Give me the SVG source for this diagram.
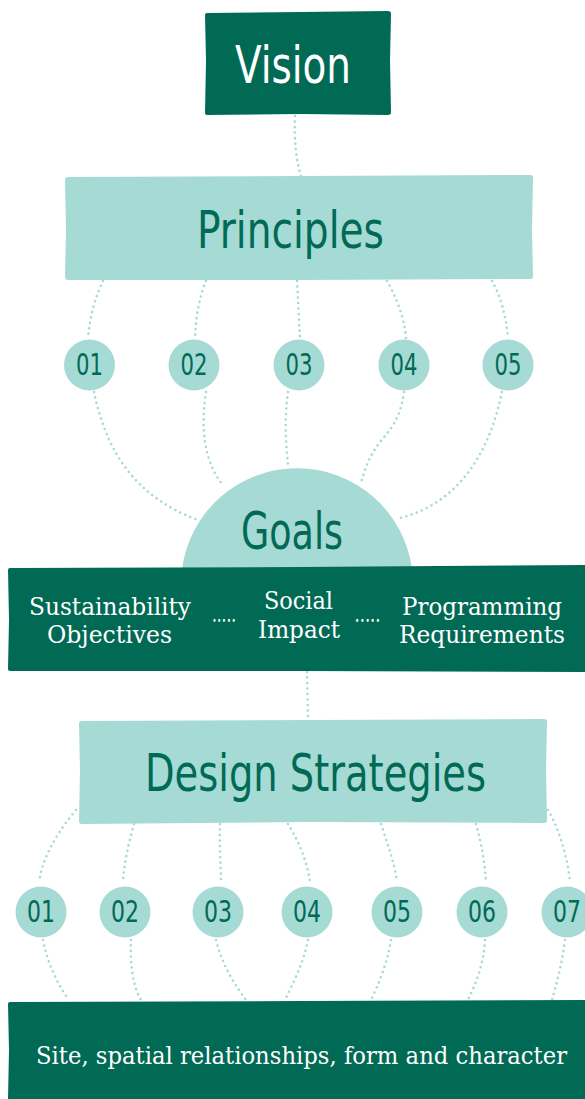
<svg xmlns="http://www.w3.org/2000/svg" width="585" height="1099" viewBox="0 0 585 1099">
<style>
.dark{fill:#016a55}
.light{fill:#a6dad5}
.dot{fill:none;stroke:#a6dad5;stroke-width:2.6;stroke-linecap:round;stroke-dasharray:0 5.5}
.head{font-family:"DejaVu Sans Condensed","DejaVu Sans",sans-serif;font-size:52px;text-anchor:middle}
.num{font-family:"DejaVu Sans Condensed","DejaVu Sans",sans-serif;font-size:31px;fill:#016a55;text-anchor:middle}
.ser{font-family:"DejaVu Serif Condensed","DejaVu Serif","Liberation Serif",serif;font-size:25px;fill:#ffffff;text-anchor:middle}
</style>
<rect width="585" height="1099" fill="#ffffff"/>
<g id="connectors">
<path class="dot" d="M295,116 C294,140 296,160 301,176"/>
<path class="dot" d="M103,281 C96,295 90,315 88,338"/>
<path class="dot" d="M206,281 C200,295 196,315 195,338"/>
<path class="dot" d="M297,281 C298,300 299,320 300,338"/>
<path class="dot" d="M387,281 C395,295 404,315 406,338"/>
<path class="dot" d="M492,281 C500,295 506,315 508,338"/>
<path class="dot" d="M94,392 C105,445 130,495 198,520"/>
<path class="dot" d="M206,392 C200,430 205,465 224,486"/>
<path class="dot" d="M288,392 C284,420 286,445 288,465"/>
<path class="dot" d="M404,392 C400,420 390,430 380,442 C370,455 365,468 361,483"/>
<path class="dot" d="M502,392 C490,450 460,505 396,519"/>
<path class="dot" d="M307,672 L308,718"/>
<path class="dot" d="M76,810 C55,835 42,860 39,882"/>
<path class="dot" d="M134,824 C128,845 124,865 123,882"/>
<path class="dot" d="M220,824 C219,845 221,865 221,882"/>
<path class="dot" d="M288,824 C298,840 307,860 310,882"/>
<path class="dot" d="M381,824 C388,845 395,865 397,882"/>
<path class="dot" d="M476,824 C482,845 485,865 486,882"/>
<path class="dot" d="M548,810 C560,830 568,860 570,882"/>
<path class="dot" d="M43,940 C48,965 58,985 69,1000"/>
<path class="dot" d="M131,940 C130,960 132,985 141,1000"/>
<path class="dot" d="M216,940 C222,965 235,985 246,1000"/>
<path class="dot" d="M308,940 C303,965 292,985 285,1000"/>
<path class="dot" d="M391,940 C387,965 378,985 371,1000"/>
<path class="dot" d="M485,940 C484,965 475,985 468,1000"/>
<path class="dot" d="M565,940 C562,965 556,985 552,1000"/>
</g>
<g id="vision">
<path class="dark" d="M207,13 L300,12 L388,11 Q391,11 391,14 L390,60 L391,112 Q391,115 388,115 L300,114 L207,115 Q205,115 205,113 L206,60 L205,15 Q205,13 207,13 Z"/>
<text class="head" x="293" y="83" fill="#ffffff" textLength="116" lengthAdjust="spacingAndGlyphs">Vision</text>
</g>
<g id="principles">
<path class="light" d="M68,177 L300,176 L530,175 Q533,175 533,178 L532,230 L533,276 Q533,279 530,279 L300,280 L68,280 Q65,280 65,277 L66,230 L65,180 Q65,177 68,177 Z"/>
<text class="head" x="290.5" y="248" fill="#016a55" textLength="187" lengthAdjust="spacingAndGlyphs">Principles</text>
</g>
<g id="p01"><circle class="light" cx="89.5" cy="365" r="25.5"/><text class="num" x="89.5" y="375" textLength="27" lengthAdjust="spacingAndGlyphs">01</text></g>
<g id="p02"><circle class="light" cx="194" cy="365" r="25.5"/><text class="num" x="194" y="375" textLength="27" lengthAdjust="spacingAndGlyphs">02</text></g>
<g id="p03"><circle class="light" cx="299" cy="365" r="25.5"/><text class="num" x="299" y="375" textLength="27" lengthAdjust="spacingAndGlyphs">03</text></g>
<g id="p04"><circle class="light" cx="404" cy="365" r="25.5"/><text class="num" x="404" y="375" textLength="27" lengthAdjust="spacingAndGlyphs">04</text></g>
<g id="p05"><circle class="light" cx="508" cy="365" r="25.5"/><text class="num" x="508" y="375" textLength="27" lengthAdjust="spacingAndGlyphs">05</text></g>
<g id="goals">
<path class="light" d="M182,569 A116,116 0 0 1 412,569 Z"/>
<text class="head" x="292" y="549" fill="#016a55" textLength="102" lengthAdjust="spacingAndGlyphs">Goals</text>
</g>
<g id="goals-band">
<path class="dark" d="M10,568 L300,567 L585,565 L585,672 L300,671 L10,671 Q8,671 8,669 L9,620 L8,570 Q8,568 10,568 Z"/>
<text class="ser" x="110" y="615" textLength="162" lengthAdjust="spacingAndGlyphs">Sustainability</text>
<text class="ser" x="109.5" y="643" textLength="125" lengthAdjust="spacingAndGlyphs">Objectives</text>
<text class="ser" x="224" y="622" textLength="24" lengthAdjust="spacingAndGlyphs">.....</text>
<text class="ser" x="298.5" y="609" textLength="69" lengthAdjust="spacingAndGlyphs">Social</text>
<text class="ser" x="299" y="638" textLength="82" lengthAdjust="spacingAndGlyphs">Impact</text>
<text class="ser" x="367.5" y="622" textLength="26" lengthAdjust="spacingAndGlyphs">.....</text>
<text class="ser" x="482" y="615" textLength="160" lengthAdjust="spacingAndGlyphs">Programming</text>
<text class="ser" x="482" y="643" textLength="166" lengthAdjust="spacingAndGlyphs">Requirements</text>
</g>
<g id="design-strategies">
<path class="light" d="M82,721 L310,720 L544,719 Q547,719 547,722 L546,770 L547,820 Q547,823 544,823 L310,822 L82,824 Q79,824 79,821 L80,770 L79,724 Q79,721 82,721 Z"/>
<text class="head" x="315.5" y="791" fill="#016a55" textLength="341" lengthAdjust="spacingAndGlyphs">Design Strategies</text>
</g>
<g id="s01"><circle class="light" cx="41" cy="912" r="25.5"/><text class="num" x="41" y="922" textLength="28" lengthAdjust="spacingAndGlyphs">01</text></g>
<g id="s02"><circle class="light" cx="125" cy="912" r="25.5"/><text class="num" x="125" y="922" textLength="28" lengthAdjust="spacingAndGlyphs">02</text></g>
<g id="s03"><circle class="light" cx="218" cy="912" r="25.5"/><text class="num" x="218" y="922" textLength="28" lengthAdjust="spacingAndGlyphs">03</text></g>
<g id="s04"><circle class="light" cx="307" cy="912" r="25.5"/><text class="num" x="307" y="922" textLength="28" lengthAdjust="spacingAndGlyphs">04</text></g>
<g id="s05"><circle class="light" cx="397" cy="912" r="25.5"/><text class="num" x="397" y="922" textLength="28" lengthAdjust="spacingAndGlyphs">05</text></g>
<g id="s06"><circle class="light" cx="482" cy="912" r="25.5"/><text class="num" x="482" y="922" textLength="28" lengthAdjust="spacingAndGlyphs">06</text></g>
<g id="s07"><circle class="light" cx="567" cy="912" r="25.5"/><text class="num" x="567" y="922" textLength="28" lengthAdjust="spacingAndGlyphs">07</text></g>
<g id="site-band">
<path class="dark" d="M10,1002 L300,1001 L585,1000 L585,1099 L8,1099 L9,1050 L8,1004 Q8,1002 10,1002 Z"/>
<text class="ser" x="301.5" y="1064" font-size="27" textLength="531" lengthAdjust="spacingAndGlyphs">Site, spatial relationships, form and character</text>
</g>
</svg>
